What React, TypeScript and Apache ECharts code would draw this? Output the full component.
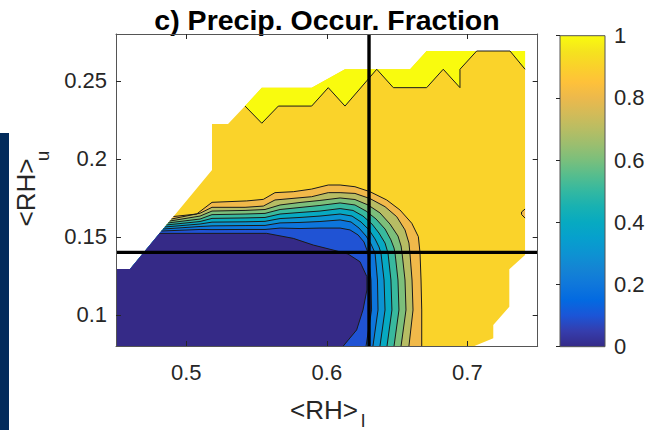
import React, { useEffect, useRef } from "react";
import * as echarts from "echarts";

// ---- axes ----
const xRange = [0.45, 0.75];
const yRange = [0.08, 0.28];
const xTicks = [0.5, 0.6, 0.7];
const yTicks = [0.1, 0.15, 0.2, 0.25];
const colorbarTicks = [0, 0.2, 0.4, 0.6, 0.8, 1];

// threshold lines: <RH>_l = 0.63 and <RH>_u = 0.14
const rhLowerMark = 0.63;
const rhUpperMark = 0.14;

// ---- contour levels and parula band colours (colour of the band starting at each level) ----
const contourLevels = [0, 0.1, 0.2, 0.3, 0.4, 0.5, 0.6, 0.7, 0.8, 0.9, 1.0];
const bandColors = [
  "#352A87", "#2053D4", "#0D75DC", "#0C93D2", "#07A9C2", "#38B99E",
  "#7CBF7B", "#B7BD64", "#F1B94A", "#FAD32A", "#F9FB0E",
];

// parula colormap stops for the colour bar
const parulaStops = [
  "#352A87", "#353DAD", "#1B55D7", "#036AE1", "#0F77DB", "#1484D4", "#0D93D2",
  "#06A0CD", "#07AAC1", "#18B1B2", "#33B8A1", "#55BD8E", "#7ABF7C", "#9BBE6F",
  "#B8BD63", "#D3BB58", "#ECB94C", "#FEC13A", "#FAD12B", "#F5E31E", "#F9FB0E",
];

// ---- region with data (outside is NaN) ----
const domainOutline = [
  [0.45, 0.08], [0.45, 0.1294], [0.46, 0.1294], [0.5183, 0.1928], [0.5183, 0.2223],
  [0.5297, 0.2223], [0.5418, 0.2338], [0.5537, 0.2456], [0.5892, 0.2456], [0.6129, 0.2574],
  [0.6592, 0.2574], [0.671, 0.2691], [0.741, 0.2691], [0.741, 0.1383], [0.7298, 0.1292],
  [0.7298, 0.1052], [0.7184, 0.0935], [0.7184, 0.085], [0.705, 0.08],
];

// patches where the fraction reaches 1
const saturatedPatches = [
  [[0.5418, 0.2338], [0.5537, 0.2456], [0.5892, 0.2456], [0.6129, 0.2574], [0.6355, 0.2574],
   [0.6129, 0.2338], [0.601, 0.2456], [0.5892, 0.2338], [0.5655, 0.2338], [0.5537, 0.2228]],
  [[0.6355, 0.2574], [0.6592, 0.2574], [0.671, 0.2691], [0.7066, 0.2691], [0.6947, 0.2574],
   [0.6947, 0.2456], [0.6828, 0.2574], [0.671, 0.2456], [0.6473, 0.2456]],
  [[0.7303, 0.2691], [0.741, 0.2691], [0.741, 0.2574]],
];
const saturatedEdge = [
  [0.5418, 0.2338], [0.5537, 0.2228], [0.5655, 0.2338], [0.5892, 0.2338], [0.601, 0.2456],
  [0.6129, 0.2338], [0.6355, 0.2574], [0.6473, 0.2456], [0.671, 0.2456], [0.6828, 0.2574],
  [0.6947, 0.2456], [0.6947, 0.2574], [0.7066, 0.2691], [0.7303, 0.2691], [0.741, 0.2574],
];

// small closed 0.9 contour at the right edge
const bumpEdge = [[0.741, 0.1678], [0.7385, 0.1659], [0.7385, 0.1643], [0.741, 0.162]];

// ---- contour lines, 0.1 ... 0.9 ----
const iso01 = [
  [0.481, 0.1522], [0.5572, 0.1522], [0.5631, 0.1512], [0.5761, 0.149], [0.5904, 0.1447],
  [0.6058, 0.1412], [0.615, 0.139], [0.6236, 0.134], [0.6285, 0.1244], [0.6285, 0.1159],
  [0.6257, 0.1031], [0.6212, 0.0903], [0.6117, 0.08],
];
const iso02 = [
  [0.4823, 0.1537], [0.5098, 0.1547], [0.5183, 0.1546], [0.5418, 0.1547], [0.556, 0.1547],
  [0.5667, 0.1556], [0.5809, 0.1553], [0.5951, 0.1556], [0.6094, 0.1556], [0.6165, 0.1544],
  [0.6222, 0.1512], [0.6264, 0.1467], [0.6293, 0.1396], [0.6314, 0.1223], [0.6318, 0.1031],
  [0.6279, 0.08],
];
const iso03 = [
  [0.4835, 0.155], [0.5098, 0.1566], [0.5183, 0.157], [0.5418, 0.1572], [0.556, 0.1573],
  [0.5667, 0.1589], [0.5809, 0.1592], [0.5951, 0.1598], [0.6094, 0.1608], [0.6172, 0.1595],
  [0.6229, 0.1556], [0.6279, 0.1505], [0.6314, 0.1454], [0.6343, 0.1396], [0.636, 0.1223],
  [0.6364, 0.1031], [0.6328, 0.08],
];
const iso04 = [
  [0.4847, 0.1563], [0.5098, 0.1582], [0.5183, 0.1594], [0.5418, 0.1596], [0.556, 0.1599],
  [0.5667, 0.1617], [0.5809, 0.1624], [0.5951, 0.1633], [0.6094, 0.1646], [0.6179, 0.1633],
  [0.6243, 0.1595], [0.63, 0.1544], [0.6343, 0.1486], [0.6371, 0.1435], [0.6385, 0.1396],
  [0.6407, 0.1223], [0.6414, 0.1031], [0.6378, 0.08],
];
const iso05 = [
  [0.4859, 0.1576], [0.5098, 0.1598], [0.5183, 0.1618], [0.5418, 0.1621], [0.556, 0.1624],
  [0.5667, 0.1646], [0.5809, 0.1656], [0.5951, 0.1665], [0.6094, 0.1681], [0.6186, 0.1669],
  [0.6257, 0.1633], [0.6321, 0.1582], [0.6371, 0.1524], [0.6414, 0.146], [0.6435, 0.1396],
  [0.6456, 0.1223], [0.6463, 0.1031], [0.6428, 0.08],
];
const iso06 = [
  [0.4871, 0.1589], [0.5098, 0.1614], [0.5183, 0.1642], [0.5418, 0.1646], [0.556, 0.165],
  [0.5667, 0.1675], [0.5809, 0.1688], [0.5951, 0.1701], [0.6094, 0.1717], [0.62, 0.1704],
  [0.6279, 0.1665], [0.635, 0.1614], [0.6414, 0.155], [0.6456, 0.148], [0.6478, 0.1428],
  [0.6485, 0.1396], [0.6506, 0.1223], [0.6513, 0.1031], [0.6478, 0.08],
];
const iso07 = [
  [0.4882, 0.1601], [0.5098, 0.1633], [0.5183, 0.1665], [0.5418, 0.1669], [0.556, 0.1675],
  [0.5667, 0.1704], [0.5809, 0.172], [0.5951, 0.1733], [0.6094, 0.1749], [0.62, 0.1739],
  [0.6293, 0.1704], [0.6378, 0.1653], [0.6449, 0.1582], [0.6506, 0.1505], [0.6528, 0.1441],
  [0.6535, 0.1396], [0.6556, 0.1223], [0.6563, 0.1031], [0.6528, 0.08],
];
const iso08 = [
  [0.4894, 0.1614], [0.5098, 0.1651], [0.5183, 0.1689], [0.5418, 0.1689], [0.5548, 0.1697],
  [0.5631, 0.1736], [0.5892, 0.1757], [0.601, 0.1783], [0.6094, 0.1783], [0.62, 0.1778],
  [0.6307, 0.1745], [0.6414, 0.1693], [0.6497, 0.1629], [0.6556, 0.1544], [0.6584, 0.146],
  [0.6591, 0.1396], [0.6606, 0.1223], [0.6613, 0.1031], [0.6584, 0.08],
];
const iso09 = [
  [0.4909, 0.163], [0.5074, 0.1646], [0.5183, 0.1721], [0.543, 0.173], [0.5548, 0.174],
  [0.5631, 0.1783], [0.5761, 0.1789], [0.5892, 0.1806], [0.601, 0.1832], [0.6094, 0.1832],
  [0.62, 0.1821], [0.6307, 0.1789], [0.6426, 0.1736], [0.652, 0.1672], [0.6604, 0.1587],
  [0.6651, 0.1501], [0.6663, 0.1396], [0.667, 0.1223], [0.6675, 0.1031], [0.6675, 0.08],
];
const contourLines = [iso01, iso02, iso03, iso04, iso05, iso06, iso07, iso08, iso09];

const FONT = '"Liberation Sans", Arial, Helvetica, sans-serif';
const INK = "#262626";
const FRAME = "#555555";
const TICK_FONT = 22;
const LABEL_FONT = 26;
const SUB_FONT = 19;

type Pt = number[];
type Layer = { points: Pt[]; color: string };

function buildFillLayers(): Layer[] {
  const layers: Layer[] = [];
  layers.push({ points: domainOutline, color: bandColors[9] });
  saturatedPatches.forEach((p) => layers.push({ points: p, color: bandColors[10] }));
  layers.push({ points: bumpEdge, color: bandColors[8] });
  // the lower-left corner of the data region closes every sub-level region
  const corner = domainOutline.slice(0, 3);
  for (let k = contourLines.length - 1; k >= 0; k--) {
    layers.push({ points: [...contourLines[k], ...corner], color: bandColors[k] });
  }
  return layers;
}

export default function App() {
  const ref = useRef<HTMLDivElement>(null);

  useEffect(() => {
    if (!ref.current) return;
    const chart = echarts.init(ref.current, null, { renderer: "svg" });
    const fills = buildFillLayers();
    const strokes: Pt[][] = [...contourLines, saturatedEdge, bumpEdge];

    const mainAxisCommon = {
      type: "value",
      z: 10,
      splitLine: { show: false },
      axisLine: { show: true, onZero: false, lineStyle: { color: FRAME, width: 1 } },
    };

    chart.setOption({
      animation: false,
      backgroundColor: "#ffffff",
      grid: [
        { left: 116, top: 34, width: 421.7, height: 312, outerBoundsMode: "none" },
        { left: 560, top: 35.7, width: 45, height: 311, outerBoundsMode: "none" },
      ],
      xAxis: [
        {
          ...mainAxisCommon,
          gridIndex: 0,
          position: "bottom",
          min: xRange[0],
          max: xRange[1],
          axisTick: { show: true, inside: true, length: 5, customValues: xTicks, lineStyle: { color: INK } },
          axisLabel: { customValues: xTicks, fontSize: TICK_FONT, fontFamily: FONT, color: INK, margin: 15 },
        },
        { type: "value", gridIndex: 1, min: 0, max: 1, show: false },
        {
          ...mainAxisCommon,
          gridIndex: 0,
          position: "top",
          min: xRange[0],
          max: xRange[1],
          axisTick: { show: true, inside: true, length: 5, customValues: xTicks, lineStyle: { color: INK } },
          axisLabel: { show: false },
        },
      ],
      yAxis: [
        {
          ...mainAxisCommon,
          gridIndex: 0,
          position: "left",
          min: yRange[0],
          max: yRange[1],
          axisTick: { show: true, inside: true, length: 5, customValues: yTicks, lineStyle: { color: INK } },
          axisLabel: { customValues: yTicks, fontSize: TICK_FONT, fontFamily: FONT, color: INK, margin: 9 },
        },
        {
          type: "value",
          gridIndex: 1,
          position: "right",
          min: 0,
          max: 1,
          interval: 0.2,
          z: 10,
          splitLine: { show: false },
          axisLine: { show: false },
          axisTick: { show: true, inside: true, length: 4, customValues: colorbarTicks, lineStyle: { color: INK } },
          axisLabel: {
            customValues: colorbarTicks,
            fontSize: TICK_FONT,
            fontFamily: FONT,
            color: INK,
            margin: 9,
            showMinLabel: true,
            showMaxLabel: true,
          },
        },
        {
          ...mainAxisCommon,
          gridIndex: 0,
          position: "right",
          min: yRange[0],
          max: yRange[1],
          axisTick: { show: true, inside: true, length: 5, customValues: yTicks, lineStyle: { color: INK } },
          axisLabel: { show: false },
        },
      ],
      series: [
        {
          type: "custom",
          name: "filled contours",
          xAxisIndex: 0,
          yAxisIndex: 0,
          silent: true,
          z: 2,
          data: fills.map((_, i) => [xRange[0], yRange[0], i]),
          renderItem: (params: any, api: any) => {
            const layer = fills[params.dataIndex];
            return {
              type: "polygon",
              shape: { points: layer.points.map((p) => api.coord(p)) },
              style: { fill: layer.color, stroke: null },
            };
          },
        },
        {
          type: "custom",
          name: "contour lines",
          xAxisIndex: 0,
          yAxisIndex: 0,
          silent: true,
          z: 3,
          data: strokes.map((_, i) => [xRange[0], yRange[0], i]),
          renderItem: (params: any, api: any) => {
            const line = strokes[params.dataIndex];
            return {
              type: "polyline",
              shape: { points: line.map((p) => api.coord(p)) },
              style: { fill: null, stroke: "#1a1a1a", lineWidth: 1, lineJoin: "miter" },
            };
          },
        },
        {
          type: "custom",
          name: "thresholds",
          xAxisIndex: 0,
          yAxisIndex: 0,
          silent: true,
          z: 4,
          data: [[rhLowerMark, rhUpperMark]],
          renderItem: (_params: any, api: any) => {
            const v0 = api.coord([rhLowerMark, yRange[0]]);
            const v1 = api.coord([rhLowerMark, yRange[1]]);
            const h0 = api.coord([xRange[0], rhUpperMark]);
            const h1 = api.coord([xRange[1], rhUpperMark]);
            const style = { stroke: "#000000", lineWidth: 3.4 };
            return {
              type: "group",
              children: [
                { type: "line", shape: { x1: h0[0], y1: h0[1], x2: h1[0], y2: h1[1] }, style },
                { type: "line", shape: { x1: v0[0], y1: v0[1], x2: v1[0], y2: v1[1] }, style },
              ],
            };
          },
        },
        {
          type: "custom",
          name: "colorbar",
          xAxisIndex: 1,
          yAxisIndex: 1,
          silent: true,
          z: 2,
          data: [[0, 0]],
          renderItem: (_params: any, api: any) => {
            const a = api.coord([0, 1]);
            const b = api.coord([1, 0]);
            const stops = parulaStops.map((c, i) => ({ offset: i / (parulaStops.length - 1), color: c }));
            return {
              type: "rect",
              shape: { x: a[0], y: a[1], width: b[0] - a[0], height: b[1] - a[1] },
              style: {
                fill: new echarts.graphic.LinearGradient(0, 1, 0, 0, stops),
                stroke: FRAME,
                lineWidth: 1,
              },
            };
          },
        },
      ],
      graphic: [
        {
          type: "rect",
          left: 0,
          top: 133,
          shape: { width: 9, height: 297 },
          style: { fill: "#022B5B" },
          silent: true,
        },
        {
          type: "text",
          x: 327,
          y: 20,
          style: {
            text: "c) Precip. Occur. Fraction",
            fontSize: 28.5,
            fontWeight: "bold",
            fontFamily: FONT,
            fill: "#000000",
            align: "center",
            verticalAlign: "middle",
          },
        },
        {
          type: "text",
          x: 290,
          y: 410,
          style: {
            text: "<RH>",
            fontSize: LABEL_FONT,
            fontFamily: FONT,
            fill: INK,
            align: "left",
            verticalAlign: "middle",
          },
        },
        {
          type: "text",
          x: 361,
          y: 420,
          style: { text: "l", fontSize: SUB_FONT, fontFamily: FONT, fill: INK, align: "left", verticalAlign: "middle" },
        },
        {
          type: "text",
          x: 25.8,
          y: 192.5,
          rotation: Math.PI / 2,
          style: {
            text: "<RH>",
            fontSize: LABEL_FONT,
            fontFamily: FONT,
            fill: INK,
            align: "center",
            verticalAlign: "middle",
          },
        },
        {
          type: "text",
          x: 42.5,
          y: 156,
          rotation: Math.PI / 2,
          style: { text: "u", fontSize: SUB_FONT, fontFamily: FONT, fill: INK, align: "center", verticalAlign: "middle" },
        },
      ],
    });

    return () => chart.dispose();
  }, []);

  return (
    <div
      ref={ref}
      style={{ position: "fixed", left: 0, top: 0, width: 649, height: 430, background: "#ffffff" }}
    />
  );
}
